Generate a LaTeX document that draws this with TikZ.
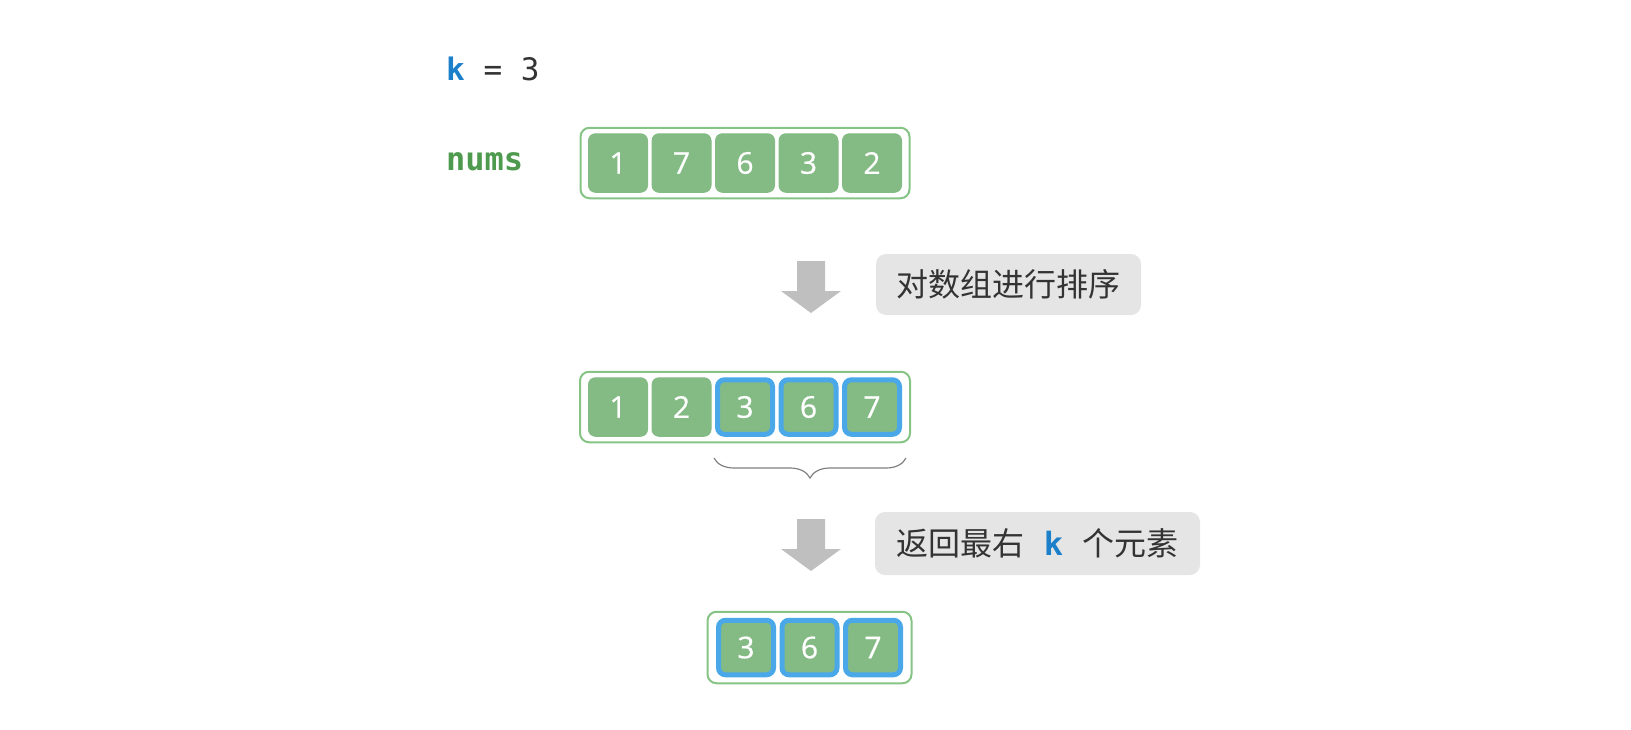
\documentclass[tikz,border=0pt]{standalone}
\usepackage{fontspec}
\setmainfont{Open Sans}
\newfontfamily\cellfont{Open Sans}[FakeBold=0.6]
\newfontfamily\cjk{Noto Sans CJK SC}
\newfontfamily\codefont{DejaVu Sans Mono}
\usetikzlibrary{positioning,fit,calc,decorations.pathreplacing}
\definecolor{cellgreen}{HTML}{84BB84}
\definecolor{framegreen}{HTML}{86C486}
\definecolor{hiblue}{HTML}{4AA8E8}
\definecolor{namegreen}{HTML}{4E9A4E}
\definecolor{kblue}{HTML}{1B7FC9}
\definecolor{tagfill}{HTML}{E5E5E5}
\definecolor{arrowgray}{HTML}{BFBFBF}
\definecolor{textgray}{HTML}{333333}
\newcommand{\blockarrow}[1]{\fill[arrowgray] #1 ++(-14,0) -- ++(28,0) -- ++(0,30) -- ++(16,0) -- ++(-30,22) -- ++(-30,-22) -- ++(16,0) -- cycle;}
\newcommand{\kvar}{\textcolor{kblue}{\codefont\bfseries k}}
\tikzset{
  cell/.style={draw=cellgreen, fill=cellgreen, line width=1pt, rounded corners=7pt,
    minimum width=59pt, minimum height=58.5pt, inner sep=0pt, text=white,
    font=\cellfont\fontsize{30}{34}\selectfont},
  hicell/.style={cell, draw=hiblue, line width=5pt, minimum width=55pt, minimum height=54.5pt},
  arraybox/.style={draw=framegreen, line width=2pt, rounded corners=9pt, inner xsep=7.5pt, inner ysep=5.5pt},
  tag/.style={fill=tagfill, rounded corners=10pt, text=textgray, inner sep=0pt,
    font=\cjk\fontsize{32}{38}\selectfont},
  brace/.style={draw=gray, line width=1.2pt, decorate, decoration={brace, amplitude=20pt}},
}
\begin{document}
\begin{tikzpicture}[x=1pt,y=-1pt]
        \useasboundingbox (0,0) rectangle (1631,729);

        \node [anchor=base west, inner sep=0pt, text=textgray, font=\codefont\fontsize{31}{36}\selectfont] (K) at (446,80) {\kvar{} = 3};
        \node [anchor=base west, inner sep=0pt, text=namegreen, font=\codefont\bfseries\fontsize{32}{36}\selectfont] (Nums) at (446,170) {nums};

        % input array
        \node [cell] (N1) at (618,163) {1};
        \node [cell, on grid, right=63.5pt of N1] (N2) {7};
        \node [cell, on grid, right=63.5pt of N2] (N3) {6};
        \node [cell, on grid, right=63.5pt of N3] (N4) {3};
        \node [cell, on grid, right=63.5pt of N4] (N5) {2};
        \node [arraybox, fit=(N1)(N5)] (NumsBox) {};

        \coordinate (Step1) at (811,261);
        \blockarrow{(Step1)}
        \node [tag, minimum width=265pt, minimum height=61pt] (SortTag) at (1008.5,284.5) {对数组进行排序};

        % sorted array
        \node [cell] (S1) at (618,407) {1};
        \node [cell, on grid, right=63.5pt of S1] (S2) {2};
        \node [hicell, on grid, right=63.5pt of S2] (S3) {3};
        \node [hicell, on grid, right=63.5pt of S3] (S4) {6};
        \node [hicell, on grid, right=63.5pt of S4] (S5) {7};
        \node [arraybox, fit=(S1)(S5), inner xsep=8pt] (SortedBox) {};
        \draw [brace] ($(S5.east)+(4,51)$) -- ($(S3.west)+(-1,51)$);

        \coordinate (Step2) at (811,519);
        \blockarrow{(Step2)}
        \node [tag, minimum width=325pt, minimum height=63pt] (ReturnTag) at (1037.5,543.5) {返回最右{\codefont\bfseries\textcolor{kblue}{~k~}}个元素};

        % result
        \node [hicell] (R1) at (746,647.5) {3};
        \node [hicell, on grid, right=63.5pt of R1] (R2) {6};
        \node [hicell, on grid, right=63.5pt of R2] (R3) {7};
        \node [arraybox, fit=(R1)(R3), inner xsep=8.5pt, inner ysep=6pt] (ResultBox) {};
      \end{tikzpicture}
\end{document}
